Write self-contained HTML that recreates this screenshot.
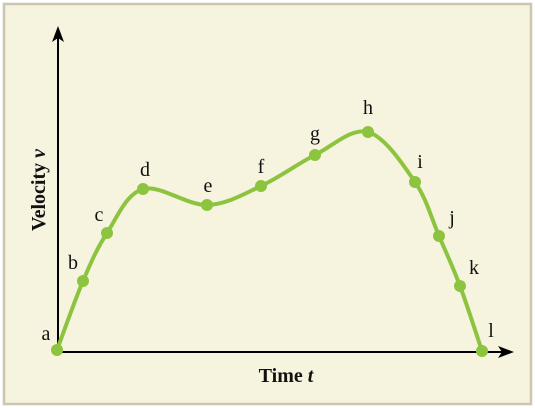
<!DOCTYPE html>
<html><head><meta charset="utf-8"><style>
html,body{margin:0;padding:0;background:#fff;}
svg{display:block;}
</style></head><body>
<svg id="chart" width="535" height="408" viewBox="0 0 535 408" font-family="'Liberation Serif', 'DejaVu Serif', serif">
<rect x="4" y="4" width="527" height="400" fill="#f6f3de" stroke="#cdc5af" stroke-width="2.5"/>
<line x1="58" y1="352" x2="58" y2="35" stroke="#000" stroke-width="2"/>
<path d="M52,42 L58,26 L64,42 L58,38 Z" fill="#000"/>
<line x1="58" y1="352" x2="506" y2="352" stroke="#000" stroke-width="2"/>
<path d="M498,346 L514,352 L498,358 L502,352 Z" fill="#000"/>
<text x="286" y="382" text-anchor="middle" font-size="20" font-weight="bold" fill="#111" font-family="'Liberation Serif', serif">Time <tspan font-style="italic">t</tspan></text>
<text transform="translate(45,190) rotate(-90)" text-anchor="middle" font-size="20" font-weight="bold" fill="#111" font-family="'Liberation Serif', serif">Velocity <tspan font-style="italic">v</tspan></text>
<g id="series"></g>
</svg>
<script>
const labels=['a','b','c','d','e','f','g','h','i','j','k','l'];
const times=[0,26,50,86,150,204,258,311,358,382,403,425];
const velocities=[0,69,117,161,145,164,195,218,168,114,64,-1];
const xs=t=>57+t, ys=v=>350-v;
const g=document.getElementById('series');
const NS='http://www.w3.org/2000/svg';
const P=times.map((t,i)=>[xs(t),ys(velocities[i])]);
let d='M'+P[0][0]+','+P[0][1];
for(let i=0;i<P.length-1;i++){
 const p0=P[Math.max(i-1,0)],p1=P[i],p2=P[i+1],p3=P[Math.min(i+2,P.length-1)];
 const c1=[p1[0]+(p2[0]-p0[0])/6,p1[1]+(p2[1]-p0[1])/6];
 const c2=[p2[0]-(p3[0]-p1[0])/6,p2[1]-(p3[1]-p1[1])/6];
 d+=' C'+c1+' '+c2+' '+p2;
}
const path=document.createElementNS(NS,'path');
path.setAttribute('d',d);path.setAttribute('fill','none');path.setAttribute('stroke','#8cc43f');path.setAttribute('stroke-width','4');


g.appendChild(path);
const offs=[[-11,-10],[-10,-12],[-8,-12],[2,-13],[1,-13],[0,-13],[0,-15],[0,-18],[5,-14],[13,-12],[14,-12],[9,-14]];
P.forEach((p,i)=>{
 const c=document.createElementNS(NS,'circle');
 c.setAttribute('cx',p[0]);c.setAttribute('cy',p[1]);c.setAttribute('r','6');c.setAttribute('fill','#8cc43f');
 
 
 g.appendChild(c);
 const t=document.createElementNS(NS,'text');
 t.setAttribute('x',p[0]+offs[i][0]);t.setAttribute('y',p[1]+offs[i][1]);t.setAttribute('text-anchor','middle');t.setAttribute('font-size','20');
 t.setAttribute('font-family',"'Liberation Serif', serif");t.setAttribute('fill','#111');
 t.textContent=labels[i];
 
 
 g.appendChild(t);
});
</script>
</body></html>
